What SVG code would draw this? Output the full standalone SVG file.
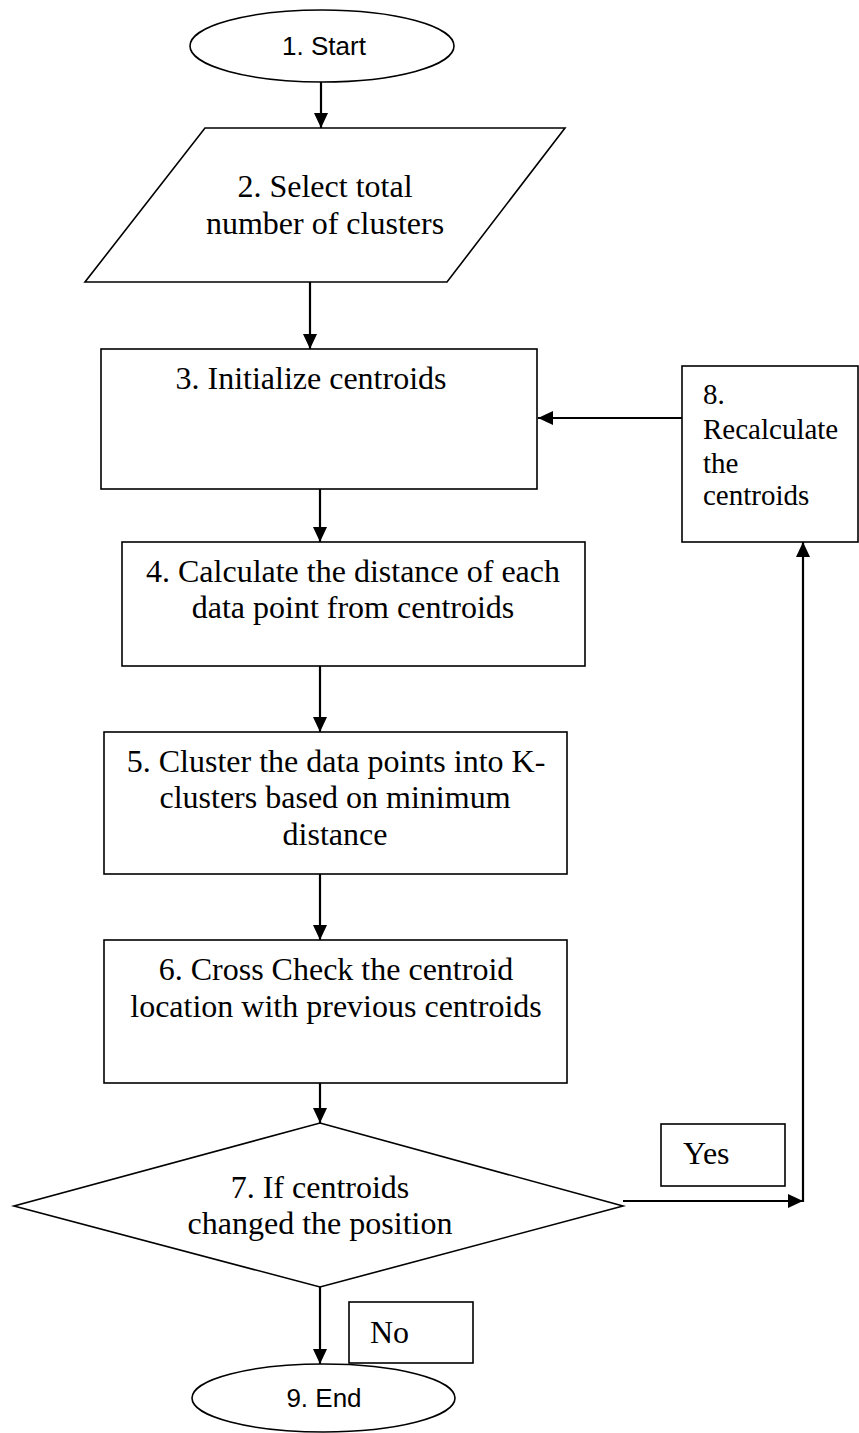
<svg xmlns="http://www.w3.org/2000/svg" width="859" height="1433" viewBox="0 0 859 1433">
<style>
.shape{fill:#fff;stroke:#000;stroke-width:1.6}
.conn{fill:none;stroke:#000;stroke-width:2.2}
.t{font-family:"Liberation Serif","Times New Roman",serif;font-size:32px;fill:#000}
.ts{font-family:"Liberation Serif","Times New Roman",serif;font-size:29px;fill:#000}
.a{font-family:"Liberation Sans",Arial,sans-serif;font-size:26px;fill:#000}
.c{text-anchor:middle}
</style>
<defs>
<marker id="arr" markerUnits="userSpaceOnUse" markerWidth="16" markerHeight="14" refX="15" refY="7" orient="auto">
<path d="M0,0 L15,7 L0,14 z" fill="#000"/>
</marker>
</defs>
<rect width="859" height="1433" fill="#fff"/>
<g id="connectors">
<line class="conn" x1="321" y1="82" x2="321" y2="128" marker-end="url(#arr)"/>
<line class="conn" x1="310" y1="282" x2="310" y2="349" marker-end="url(#arr)"/>
<line class="conn" x1="320" y1="489" x2="320" y2="542" marker-end="url(#arr)"/>
<line class="conn" x1="320" y1="666" x2="320" y2="732" marker-end="url(#arr)"/>
<line class="conn" x1="320" y1="874" x2="320" y2="940" marker-end="url(#arr)"/>
<line class="conn" x1="320" y1="1083" x2="320" y2="1123" marker-end="url(#arr)"/>
<line class="conn" x1="320" y1="1287" x2="320" y2="1364" marker-end="url(#arr)"/>
<line class="conn" x1="682" y1="418" x2="538" y2="418" marker-end="url(#arr)"/>
<line class="conn" x1="623" y1="1201" x2="803" y2="1201" marker-end="url(#arr)"/>
<line class="conn" x1="803" y1="1202" x2="803" y2="542" marker-end="url(#arr)"/>
</g>
<g id="n1">
<ellipse class="shape" cx="322" cy="46" rx="132" ry="36"/>
<text class="a c" x="324" y="55">1. Start</text>
</g>
<g id="n2">
<polygon class="shape" points="205,128 565,128 447,282 85,282"/>
<text class="t c" x="325" y="197">2. Select total</text>
<text class="t c" x="325" y="234">number of clusters</text>
</g>
<g id="n3">
<rect class="shape" x="101" y="349" width="436" height="140"/>
<text class="t c" x="311" y="389">3. Initialize centroids</text>
</g>
<g id="n4">
<rect class="shape" x="122" y="542" width="463" height="124"/>
<text class="t c" x="353" y="582">4. Calculate the distance of each</text>
<text class="t c" x="353" y="618">data point from centroids</text>
</g>
<g id="n5">
<rect class="shape" x="104" y="732" width="463" height="142"/>
<text class="t c" x="336" y="772">5. Cluster the data points into K-</text>
<text class="t c" x="335" y="808">clusters based on minimum</text>
<text class="t c" x="335" y="845">distance</text>
</g>
<g id="n6">
<rect class="shape" x="104" y="940" width="463" height="143"/>
<text class="t c" x="336" y="980">6. Cross Check the centroid</text>
<text class="t c" x="336" y="1017">location with previous centroids</text>
</g>
<g id="n7">
<polygon class="shape" points="320,1123 623,1206 320,1287 14,1206"/>
<text class="t c" x="320" y="1198">7. If centroids</text>
<text class="t c" x="320" y="1234">changed the position</text>
</g>
<g id="n8">
<rect class="shape" x="682" y="366" width="176" height="176"/>
<text class="ts" x="703" y="404">8.</text>
<text class="ts" x="703" y="439">Recalculate</text>
<text class="ts" x="703" y="473">the</text>
<text class="ts" x="703" y="505">centroids</text>
</g>
<g id="yes">
<rect class="shape" x="661" y="1124" width="124" height="62"/>
<text class="t" x="683" y="1164">Yes</text>
</g>
<g id="no">
<rect class="shape" x="349" y="1302" width="124" height="61"/>
<text class="t" x="370" y="1343">No</text>
</g>
<g id="n9">
<ellipse class="shape" cx="323.5" cy="1398" rx="131.5" ry="34"/>
<text class="a c" x="324" y="1407">9. End</text>
</g>
</svg>
